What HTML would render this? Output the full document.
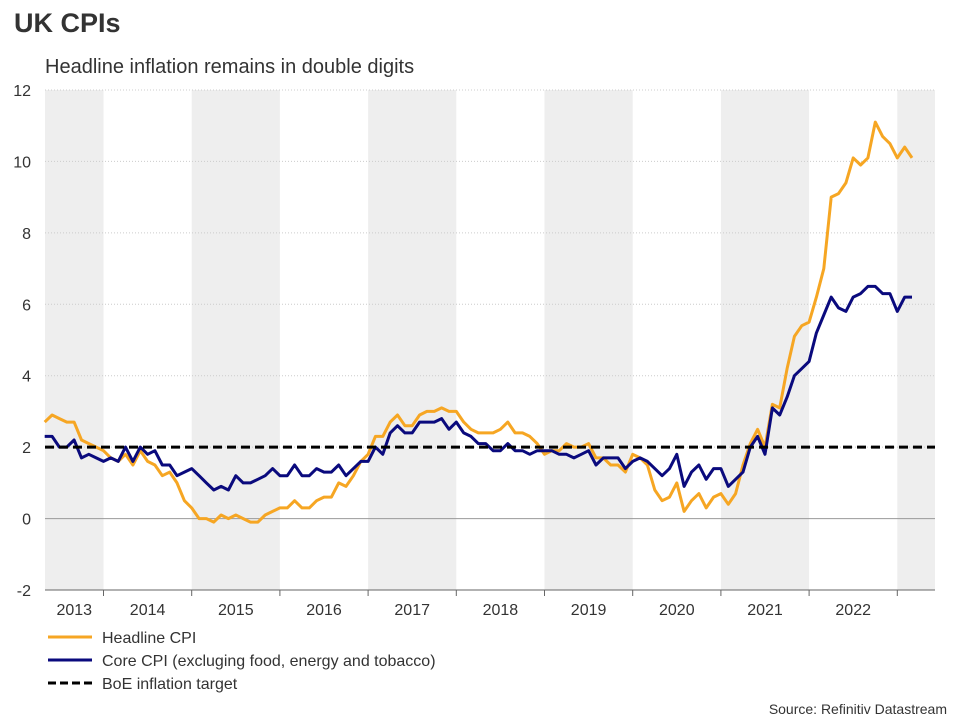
<!DOCTYPE html>
<html><head><meta charset="utf-8"><style>
body{margin:0;background:#fff;font-family:"Liberation Sans",Arial,sans-serif;}
</style></head><body>
<svg id="chart" width="960" height="720" xmlns="http://www.w3.org/2000/svg" font-family="Liberation Sans, Arial, sans-serif">
<text x="14" y="32" font-size="27" font-weight="bold" fill="#333">UK CPIs</text>
<text x="45" y="73" font-size="20" fill="#333">Headline inflation remains in double digits</text>
<g id="bands"></g><g id="grid"></g><g id="axes"></g><g id="series"></g>
<g>
<line x1="48" y1="637" x2="92" y2="637" stroke="#f6a623" stroke-width="3"/>
<text x="102" y="643" font-size="16" fill="#333">Headline CPI</text>
<line x1="48" y1="660" x2="92" y2="660" stroke="#0a0a7d" stroke-width="3"/>
<text x="102" y="666" font-size="16" fill="#333">Core CPI (excluging food, energy and tobacco)</text>
<line x1="48" y1="683" x2="92" y2="683" stroke="#000" stroke-width="3" stroke-dasharray="8,4"/>
<text x="102" y="689" font-size="16" fill="#333">BoE inflation target</text>
</g>
<text x="947" y="714" font-size="14" fill="#333" text-anchor="end">Source: Refinitiv Datastream</text>
</svg>
<script>
const years=[2013,2014,2015,2016,2017,2018,2019,2020,2021,2022];
const yTicks=[-2,0,2,4,6,8,10,12];
const startMonth=4; // May 2013, months since Jan 2013
const headline=[2.7,2.9,2.8,2.7,2.7,2.2,2.1,2.0,
1.9,1.7,1.6,1.8,1.5,1.9,1.6,1.5,1.2,1.3,1.0,0.5,
0.3,0.0,0.0,-0.1,0.1,0.0,0.1,0.0,-0.1,-0.1,0.1,0.2,
0.3,0.3,0.5,0.3,0.3,0.5,0.6,0.6,1.0,0.9,1.2,1.6,
1.8,2.3,2.3,2.7,2.9,2.6,2.6,2.9,3.0,3.0,3.1,3.0,
3.0,2.7,2.5,2.4,2.4,2.4,2.5,2.7,2.4,2.4,2.3,2.1,
1.8,1.9,1.9,2.1,2.0,2.0,2.1,1.7,1.7,1.5,1.5,1.3,
1.8,1.7,1.5,0.8,0.5,0.6,1.0,0.2,0.5,0.7,0.3,0.6,
0.7,0.4,0.7,1.5,2.1,2.5,2.0,3.2,3.1,4.2,5.1,5.4,
5.5,6.2,7.0,9.0,9.1,9.4,10.1,9.9,10.1,11.1,10.7,10.5,
10.1,10.4,10.1];
const core=[2.3,2.3,2.0,2.0,2.2,1.7,1.8,1.7,
1.6,1.7,1.6,2.0,1.6,2.0,1.8,1.9,1.5,1.5,1.2,1.3,
1.4,1.2,1.0,0.8,0.9,0.8,1.2,1.0,1.0,1.1,1.2,1.4,
1.2,1.2,1.5,1.2,1.2,1.4,1.3,1.3,1.5,1.2,1.4,1.6,
1.6,2.0,1.8,2.4,2.6,2.4,2.4,2.7,2.7,2.7,2.8,2.5,
2.7,2.4,2.3,2.1,2.1,1.9,1.9,2.1,1.9,1.9,1.8,1.9,
1.9,1.9,1.8,1.8,1.7,1.8,1.9,1.5,1.7,1.7,1.7,1.4,
1.6,1.7,1.6,1.4,1.2,1.4,1.8,0.9,1.3,1.5,1.1,1.4,
1.4,0.9,1.1,1.3,2.0,2.3,1.8,3.1,2.9,3.4,4.0,4.2,
4.4,5.2,5.7,6.2,5.9,5.8,6.2,6.3,6.5,6.5,6.3,6.3,
5.8,6.2,6.2];
const target=2;
const L=45,R=935,T=90,B=590,yMin=-2,yMax=12;
const yS=v=>B-(v-yMin)/(yMax-yMin)*(B-T);
const yearW=88.2,jan2014=103.5;
const xS=m=>jan2014+(m-12)*yearW/12; // m = months since Jan 2013
const NS="http://www.w3.org/2000/svg";
function mk(tag,attrs,parent){const e=document.createElementNS(NS,tag);for(const k in attrs)e.setAttribute(k,attrs[k]);document.getElementById(parent).appendChild(e);return e;}
// bands
years.concat([2023]).forEach((yr,i)=>{
 const x0=Math.max(L,xS((yr-2013)*12)),x1=Math.min(R,xS((yr-2012)*12));
 if(i%2===0){const r=mk('rect',{x:x0,y:T,width:x1-x0,height:B-T,fill:'#eeeeee'},'bands');
 
 }
});
// grid + y labels
yTicks.forEach(v=>{
 const y=yS(v);
 const g=mk('line',{x1:L,x2:R,y1:y,y2:y,stroke:v===0?'#999':'#ccc','stroke-width':1,'stroke-dasharray':v===0?'':'1,2'},'grid');
 
 
 const t=mk('text',{x:31,y:y+6,'font-size':16,fill:'#333','text-anchor':'end'},'axes');
 t.textContent=v;
 
 
});
const ax=mk('line',{x1:L,x2:R,y1:B,y2:B,stroke:'#666','stroke-width':1},'axes');


years.forEach(yr=>{
 const x0=Math.max(L,xS((yr-2013)*12)),x1=xS((yr-2012)*12);
 const t=mk('text',{x:(x0+x1)/2,y:615,'font-size':16,fill:'#333','text-anchor':'middle'},'axes');
 t.textContent=yr;
 
 
 const tk=mk('line',{x1:x1,x2:x1,y1:B,y2:B+6,stroke:'#666'},'axes');
 
 
});
function line(arr,color,name){
 const d=arr.map((v,i)=>(i?'L':'M')+xS(startMonth+i).toFixed(1)+','+yS(v).toFixed(1)).join('');
 const p=mk('path',{d:d,fill:'none',stroke:color,'stroke-width':3,'stroke-linejoin':'round'},'series');
 
 
}
line(headline,'#f6a623','headline-cpi-line');
line(core,'#0a0a7d','core-cpi-line');
const tl=mk('line',{x1:L,x2:R,y1:yS(target),y2:yS(target),stroke:'#000','stroke-width':3,'stroke-dasharray':'9,5'},'series');


</script>
</body></html>
